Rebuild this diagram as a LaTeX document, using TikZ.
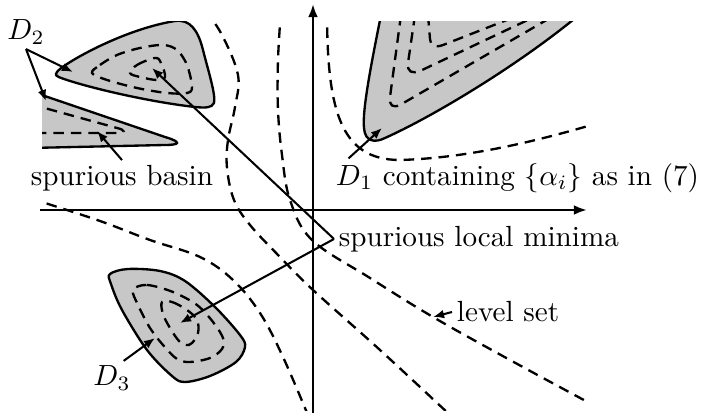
\documentclass[tikz,border=0pt]{standalone}
\usetikzlibrary{arrows.meta}
\begin{document}
\begin{tikzpicture}[x=0.1205mm, y=-0.1205mm,
    region/.style={draw, fill=black!22, line width=0.8pt},
    contour/.style={dash pattern=on 3.6pt off 2.4pt, line width=0.8pt},
    pointer/.style={-{Latex[length=3.8pt,width=3pt]}, line width=0.7pt},
    axis/.style={-{Latex[length=4.5pt,width=3.4pt]}, line width=1pt},
    lbl/.style={inner sep=1.5pt}]
\useasboundingbox (0,0) rectangle (703,417);
\begin{scope}
  \clip (42,22) rectangle (586,411);
  % D2, upper basin
  \draw[region] (57,72) .. controls (60,66) and (120,30) .. (175,21) .. controls (190,19) and (198,30) .. (203,50) .. controls (208,70) and (216,95) .. (214,103) .. controls (212,108) and (205,108) .. (195,107) .. controls (150,102) and (90,88) .. (64,79) .. controls (55,76) and (55,75) .. (57,72) -- cycle;
  \draw[contour] plot[smooth cycle, tension=0.55] coordinates {(92,73) (100,65) (117,55) (140,48) (163,45) (177,50) (187,65) (192,87) (187,93) (167,93) (137,88) (107,80)};
  \draw[contour] plot[smooth cycle, tension=0.6] coordinates {(130,73) (137,65) (155,58) (161,63) (165,77) (157,80) (140,77)};
  % D2, lower basin
  \draw[region] (30,91) -- (165,137) .. controls (182,142) and (180,145) .. (165,145) -- (30,148);
  \draw[contour] (30,104) -- (117,128) .. controls (126,130) and (125,133) .. (117,133) -- (30,133);
  % D1
  \draw[region] (382,10) .. controls (372,60) and (362,110) .. (364,128) .. controls (365,142) and (375,143) .. (385,138) .. controls (430,118) and (520,65) .. (585,10);
  \draw[contour] (401,15) -- (390,97) .. controls (389,106) and (393,108) .. (400,105) -- (550,18);
  \draw[contour] (415,15) -- (408,63) .. controls (407,72) and (412,74) .. (420,71) -- (532,18);
  \draw[contour] (428,15) -- (430,39) .. controls (431,46) and (435,48) .. (443,45) -- (512,18);
  % D3
  \draw[region] plot[smooth cycle, tension=0.55] coordinates {(110,274) (128,269) (160,271) (185,281) (215,307) (240,335) (245,347) (236,362) (210,376) (185,382) (172,376) (147,350) (122,310) (111,284)};
  \draw[contour] plot[smooth cycle, tension=0.55] coordinates {(133,290) (147,285) (173,292) (197,305) (213,322) (223,338) (222,349) (210,358) (190,362) (177,359) (163,345) (150,328) (138,305)};
  \draw[contour] plot[smooth cycle, tension=0.6] coordinates {(162,302) (172,302) (187,310) (197,320) (198,333) (192,343) (186,345) (179,341) (170,328) (163,314)};
  % level sets
  \draw[contour] plot[smooth, tension=0.6] coordinates {(205,10) (222,35) (238,75) (235,107) (228,140) (227,168) (234,200) (250,225) (280,257) (313,290) (380,350) (450,415)};
  \draw[contour] plot[smooth, tension=0.6] coordinates {(281,10) (278,60) (278,110) (282,155) (290,200) (312,240) (370,278) (433,317) (510,360) (595,406)};
  \draw[contour] plot[smooth, tension=0.6] coordinates {(30,198) (42,202) (100,221) (150,240) (200,257) (233,280) (260,313) (283,357) (310,420)};
  \draw[contour] (327,10) .. controls (327,110) and (340,160) .. (400,160) .. controls (470,158) and (540,140) .. (595,124);
\end{scope}
% axes
\draw[axis] (40,210) -- (587,210);
\draw[axis] (313,413) -- (313,4);
% labels
\node[lbl] (d2) at (26,32) {$D_2$};
\coordinate (d2a) at (73,72);
\coordinate (d2b) at (46,101);
\draw[pointer] (d2.south) -- (d2a);
\draw[pointer] (d2.south) -- (d2b);
\node[lbl] (basin) at (122,178) {spurious basin};
\coordinate (basinpt) at (97,131);
\draw[pointer] (basin.north) -- (basinpt);
\node[lbl, anchor=east] (d1) at (704,178) {$D_1$ containing $\{\alpha_i\}$ as in (7)};
\coordinate (d1pt) at (382,128);
\draw[pointer] ([xshift=6pt]d1.north west) -- (d1pt);
\node[lbl] (d3) at (112,378) {$D_3$};
\coordinate (d3pt) at (155,338);
\draw[pointer] ([xshift=4pt]d3.north) -- (d3pt);
\node[lbl, anchor=west] (minima) at (334,239) {spurious local minima};
\coordinate (min2) at (152,68);
\coordinate (min3) at (180,323);
\draw[pointer] (minima.west) -- (min2);
\draw[pointer] (minima.west) -- (min3);
\node[lbl, anchor=west] (level) at (452,312) {level set};
\coordinate (levelpt) at (433,317);
\draw[pointer] (level.west) -- (levelpt);
\end{tikzpicture}
\end{document}
